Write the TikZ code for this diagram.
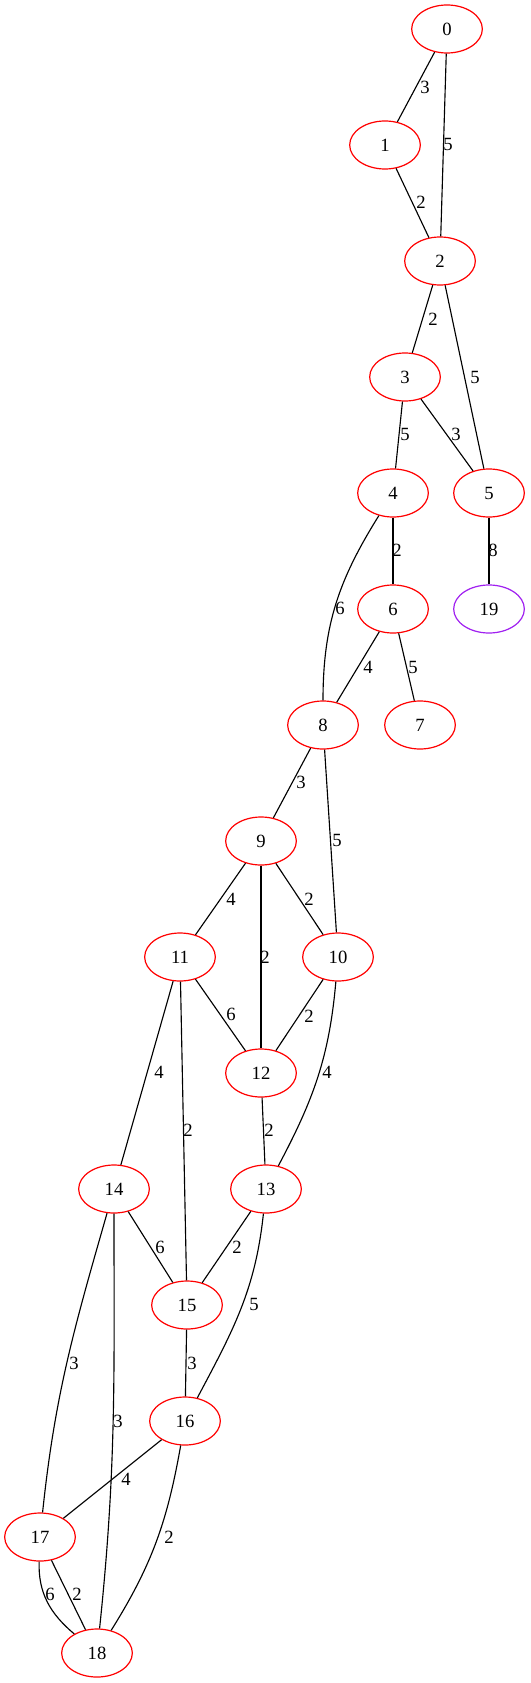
\documentclass[tikz,border=0pt]{standalone}
\usepackage{fontspec}
\setmainfont{Liberation Serif}
\usepackage{tikz}
\usetikzlibrary{shapes.geometric}
\definecolor{vpurple}{HTML}{A020F0}
\tikzset{
  vert/.style={ellipse,draw=red,line width=0.9pt,minimum width=53pt,minimum height=36pt,inner sep=0pt,font=\fontsize{14}{16}\selectfont},
  wlab/.style={inner sep=0pt,font=\fontsize{14}{16}\selectfont},
  wedge/.style={line width=0.85pt,black}
}
\begin{document}
\begin{tikzpicture}[x=0.75pt,y=-0.75pt]
  \useasboundingbox (0,0) rectangle (531,1683);
  %Nodes
  \node[vert] (n0) at (447,29) {0};
  \node[vert] (n1) at (385,145) {1};
  \node[vert] (n2) at (440,261) {2};
  \node[vert] (n3) at (405,377) {3};
  \node[vert] (n4) at (393,493) {4};
  \node[vert] (n5) at (489,493) {5};
  \node[vert] (n6) at (393,609) {6};
  \node[vert,draw=vpurple] (n19) at (489,609) {19};
  \node[vert] (n7) at (420,725) {7};
  \node[vert] (n8) at (323,725) {8};
  \node[vert] (n9) at (261,841) {9};
  \node[vert] (n11) at (180,957) {11};
  \node[vert] (n10) at (338,957) {10};
  \node[vert] (n12) at (261,1073) {12};
  \node[vert] (n14) at (114,1189) {14};
  \node[vert] (n13) at (266,1189) {13};
  \node[vert] (n15) at (187,1305) {15};
  \node[vert] (n16) at (185,1421) {16};
  \node[vert] (n17) at (40,1537) {17};
  \node[vert] (n18) at (97,1653) {18};

  %Lines
  \draw[wedge] (n0) -- (n1);
  \draw[wedge] (n0) -- (n2);
  \draw[wedge] (n1) -- (n2);
  \draw[wedge] (n2) -- (n3);
  \draw[wedge] (n2) -- (n5);
  \draw[wedge] (n3) -- (n4);
  \draw[wedge] (n3) -- (n5);
  \draw[wedge] (n4) -- (n6);
  \draw[wedge] (n5) -- (n19);
  \draw[wedge] (n4) to[out=-122,in=90] (n8);
  \draw[wedge] (n6) -- (n8);
  \draw[wedge] (n6) -- (n7);
  \draw[wedge] (n8) -- (n9);
  \draw[wedge] (n8) -- (n10);
  \draw[wedge] (n9) -- (n11);
  \draw[wedge] (n9) -- (n10);
  \draw[wedge] (n9) -- (n12);
  \draw[wedge] (n11) -- (n12);
  \draw[wedge] (n10) -- (n12);
  \draw[wedge] (n11) -- (n14);
  \draw[wedge] (n10) to[out=-95,in=62] (n13);
  \draw[wedge] (n11) -- (n15);
  \draw[wedge] (n12) -- (n13);
  \draw[wedge] (n14) -- (n15);
  \draw[wedge] (n13) -- (n15);
  \draw[wedge] (n13) to[out=-96,in=62] (n16);
  \draw[wedge] (n14) to[out=-106,in=84] (n17);
  \draw[wedge] (n14.south) to[out=-90,in=84] (n18);
  \draw[wedge] (n15) -- (n16);
  \draw[wedge] (n16) -- (n17);
  \draw[wedge] (n16) to[out=-100,in=58] (n18);
  \draw[wedge] (n17) to[out=-92,in=140] (n18);
  \draw[wedge] (n17) -- (n18);

  %Weights
  \node[wlab] (l0-1) at (425,87) {3};
  \node[wlab] (l0-2) at (448,144) {5};
  \node[wlab] (l1-2) at (421,202) {2};
  \node[wlab] (l2-3) at (433,319) {2};
  \node[wlab] (l2-5) at (475,377) {5};
  \node[wlab] (l3-4) at (405,434) {5};
  \node[wlab] (l3-5) at (456,434) {3};
  \node[wlab] (l4-6) at (397,550) {2};
  \node[wlab] (l5-19) at (493,550) {8};
  \node[wlab] (l4-8) at (340,608) {6};
  \node[wlab] (l6-8) at (368,667) {4};
  \node[wlab] (l6-7) at (413,667) {5};
  \node[wlab] (l8-9) at (301,782) {3};
  \node[wlab] (l8-10) at (337,840) {5};
  \node[wlab] (l9-11) at (231,899) {4};
  \node[wlab] (l9-10) at (309,899) {2};
  \node[wlab] (l9-12) at (265,957) {2};
  \node[wlab] (l11-12) at (231,1014) {6};
  \node[wlab] (l10-12) at (309,1016) {2};
  \node[wlab] (l11-14) at (159,1072) {4};
  \node[wlab] (l10-13) at (327,1072) {4};
  \node[wlab] (l11-15) at (188,1130) {2};
  \node[wlab] (l12-13) at (269,1130) {2};
  \node[wlab] (l14-15) at (160,1247) {6};
  \node[wlab] (l13-15) at (237,1247) {2};
  \node[wlab] (l13-16) at (254,1304) {5};
  \node[wlab] (l14-17) at (74,1363) {3};
  \node[wlab] (l14-18) at (118,1421) {3};
  \node[wlab] (l15-16) at (192,1363) {3};
  \node[wlab] (l16-17) at (126,1479) {4};
  \node[wlab] (l16-18) at (169,1537) {2};
  \node[wlab] (l17-18a) at (50,1594) {6};
  \node[wlab] (l17-18b) at (77,1594) {2};
\end{tikzpicture}
\end{document}
